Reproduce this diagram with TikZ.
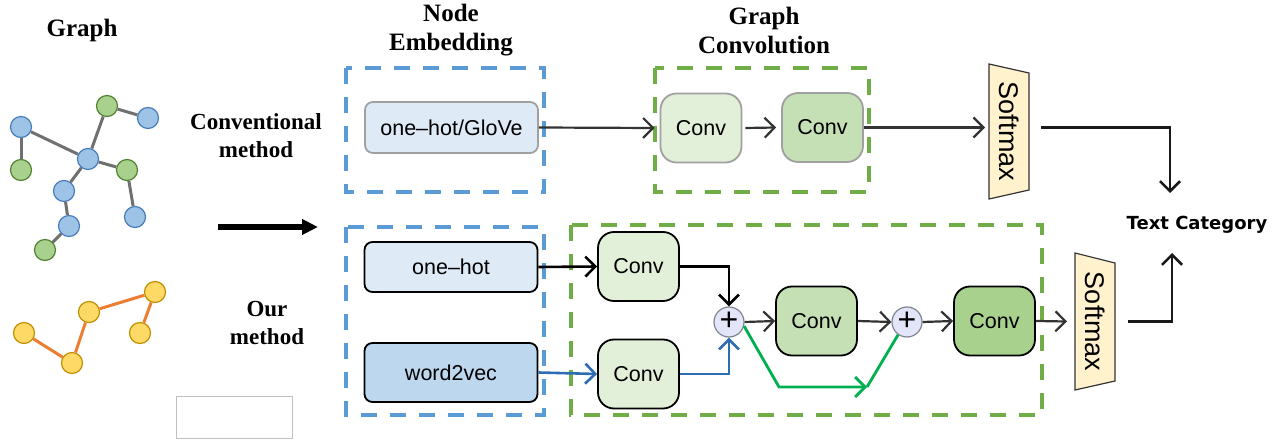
\documentclass[tikz,border=0pt]{standalone}
\usepackage{fontspec}
\setmainfont{Liberation Serif}
\setsansfont{Liberation Sans}
\newfontfamily\tcfont{DejaVu Sans}
\usetikzlibrary{arrows.meta}
\definecolor{dblue}{HTML}{5B9BD5}
\definecolor{dgreen}{HTML}{70AD47}
\definecolor{embA}{HTML}{DEEBF7}
\definecolor{embB}{HTML}{BDD7EE}
\definecolor{cvA}{HTML}{E2F0D9}
\definecolor{cvB}{HTML}{C5E0B4}
\definecolor{cvC}{HTML}{A9D18E}
\definecolor{boxgray}{HTML}{A0A0A0}
\definecolor{plusfill}{HTML}{E3E6F8}
\definecolor{plusdraw}{HTML}{7F8590}
\definecolor{softfill}{HTML}{FFF2CC}
\definecolor{arrgray}{HTML}{333333}
\definecolor{arrblue}{HTML}{2E6DB4}
\definecolor{skipgreen}{HTML}{00B050}
\definecolor{nblue}{HTML}{9DC3E6}
\definecolor{nblueD}{HTML}{4A7EBB}
\definecolor{ngreen}{HTML}{A9D18E}
\definecolor{ngreenD}{HTML}{548235}
\definecolor{nyel}{HTML}{FFD966}
\definecolor{nyelD}{HTML}{BF9000}
\definecolor{eorange}{HTML}{ED7D31}
\definecolor{egray}{HTML}{707070}
\tikzset{
  dbox/.style={line width=4pt, dash pattern=on 16pt off 13pt},
  cbox/.style={rounded corners=16pt, minimum width=81pt, minimum height=69pt, inner sep=0pt,
    line width=1.8pt, font=\sffamily\fontsize{21.5}{25}\selectfont},
  ebox/.style={rounded corners=8pt, minimum width=173pt, inner sep=0pt,
    line width=1.8pt, font=\sffamily\fontsize{21.5}{25}\selectfont},
  plusnode/.style={circle, minimum size=30pt, inner sep=0pt, fill=plusfill, draw=plusdraw, line width=1.2pt},
  arr/.style={draw=arrgray, line width=2.2pt, -{Straight Barb[length=10pt,width=20pt]}},
  gnode/.style={circle, minimum size=21pt, inner sep=0pt, line width=1.2pt},
  bn/.style={gnode, fill=nblue, draw=nblueD},
  gn/.style={gnode, fill=ngreen, draw=ngreenD},
  yn/.style={gnode, fill=nyel, draw=nyelD},
  head/.style={font=\bfseries\fontsize{25}{29}\selectfont, align=center},
  side/.style={font=\bfseries\fontsize{23}{28}\selectfont, align=center},
  softtxt/.style={rotate=-90, font=\sffamily\fontsize{27}{30}\selectfont, inner sep=0pt},
  softshape/.style={fill=softfill, draw=arrgray, line width=1.2pt},
}
\begin{document}
\begin{tikzpicture}[x=1pt,y=-1pt]
\useasboundingbox (0,0) rectangle (1281,443);

% headers
\node[head] (hgraph) at (82,30) {Graph};
\node[head] (hemb) at (451,30) {Node\\Embedding};
\node[head] (hconv) at (764,30) {Graph\\Convolution};
\node[side] (lconv) at (256,136) {Conventional\\method};
\node[side] (lour) at (267,323) {Our\\method};

% graph (conventional)
\node[bn] (b1) at (21,127) {};
\node[bn] (b2) at (148,118) {};
\node[bn] (b3) at (88,159) {};
\node[bn] (b4) at (64,191) {};
\node[bn] (b5) at (69,226) {};
\node[bn] (b6) at (135,217) {};
\node[gn] (n1) at (107,106) {};
\node[gn] (n2) at (21,170) {};
\node[gn] (n3) at (127,170) {};
\node[gn] (n4) at (45,250) {};
\begin{scope}[draw=egray, line width=3pt]
\draw (b1) -- (n2);
\draw (b1) -- (b3);
\draw (b3) -- (n1);
\draw (n1) -- (b2);
\draw (b3) -- (n3);
\draw (n3) -- (b6);
\draw (b3) -- (b4);
\draw (b4) -- (b5);
\draw (b5) -- (n4);
\end{scope}

% graph (ours)
\node[yn] (y1) at (24,333) {};
\node[yn] (y2) at (72,363) {};
\node[yn] (y3) at (89,312) {};
\node[yn] (y4) at (155,292) {};
\node[yn] (y5) at (140,333) {};
\begin{scope}[draw=eorange, line width=3pt]
\draw (y1) -- (y2);
\draw (y2) -- (y3);
\draw (y3) -- (y4);
\draw (y4) -- (y5);
\end{scope}

% big arrow and empty box
\coordinate (ba1) at (218,227);
\coordinate (ba2) at (318,227);
\draw[line width=6.5pt, -{Triangle[length=16pt,width=15pt]}] (ba1) -- (ba2);
\draw[draw=black!25, line width=0.8pt] (176,396) rectangle (292,438);

% dashed boxes
\draw[dbox, draw=dblue] (346,68) rectangle (544,192);
\draw[dbox, draw=dgreen] (655,68) rectangle (869,192);
\draw[dbox, draw=dblue] (346,227) rectangle (544,415);
\draw[dbox, draw=dgreen] (571,225) rectangle (1042,415);

% top row
\node[ebox, minimum height=51pt, fill=embA, draw=boxgray] (emb1) at (451.5,127.5) {one\textendash hot/GloVe};
\node[cbox, fill=cvA, draw=boxgray] (conv1) at (701,128) {Conv};
\node[cbox, fill=cvB, draw=boxgray] (conv2) at (822.5,127.5) {Conv};
\draw[softshape] (989,64) -- (1029,73) -- (1029,190) -- (989,199) -- cycle;
\node[softtxt] (soft1) at (1009,131.5) {Softmax};

% bottom row
\node[ebox, minimum height=50pt, fill=embA, draw=black] (emb2) at (451,267) {one\textendash hot};
\node[ebox, minimum height=59pt, fill=embB, draw=black] (emb3) at (451,372.5) {word2vec};
\node[cbox, fill=cvA, draw=black] (convA) at (638.5,266.5) {Conv};
\node[cbox, fill=cvA, draw=black] (convB) at (638.5,374) {Conv};
\node[plusnode] (plus1) at (729,322) {\sffamily\fontsize{32}{32}\selectfont\raisebox{1pt}{+}};
\node[cbox, fill=cvB, draw=black] (convM) at (816.5,321) {Conv};
\node[plusnode] (plus2) at (907,322) {\sffamily\fontsize{32}{32}\selectfont\raisebox{1pt}{+}};
\node[cbox, fill=cvC, draw=black] (convL) at (994.5,321) {Conv};
\draw[softshape] (1075,253) -- (1115,263) -- (1115,381) -- (1075,390) -- cycle;
\node[softtxt] (soft2) at (1095,321.5) {Softmax};

% text category
\node[font=\tcfont\bfseries\fontsize{18}{21}\selectfont, inner sep=0pt] (tc) at (1197,225) {Text Category};
\coordinate (tcin1) at (1170,193);
\coordinate (tcin2) at (1172,253);
\coordinate (so1) at (1041,127.5);
\coordinate (so2) at (1128,321.5);

% top connectors
\draw[arr] (emb1.east) -- ([xshift=-5pt]conv1.west);
\draw[arr] ([xshift=3pt]conv1.east) -- ([xshift=-5pt]conv2.west);
\draw[arr] (conv2.east) -- (985,127.5);
\draw[arr, line width=2.6pt, draw=black!90] (so1) -| (tcin1);

% bottom connectors
\draw[arr, draw=black, line width=2.6pt] (emb2.east) -- (convA.west);
\draw[arr, draw=arrblue, line width=2.6pt] (emb3.east) -- (convB.west);
\draw[arr, draw=black, line width=2.6pt] (convA.east) -| (plus1.north);
\draw[arr, draw=arrblue, line width=2.6pt] (convB.east) -| (plus1.south);
\draw[arr] (plus1.east) -- (convM.west);
\draw[arr] (convM.east) -- (plus2.west);
\draw[arr] (plus2.east) -- (convL.west);
\draw[arr] (convL.east) -- (1067,321.5);
\coordinate (s1) at (779,387);
\coordinate (s2) at (867,387);
\draw[arr, draw=skipgreen, line width=2.8pt] (plus1.-15) -- (s1) -- (s2);
\draw[draw=skipgreen, line width=2.8pt] (s2) -- (plus2.-125);
\draw[arr, line width=2.6pt, draw=black!90] (so2) -| (tcin2);
\end{tikzpicture}
\end{document}
